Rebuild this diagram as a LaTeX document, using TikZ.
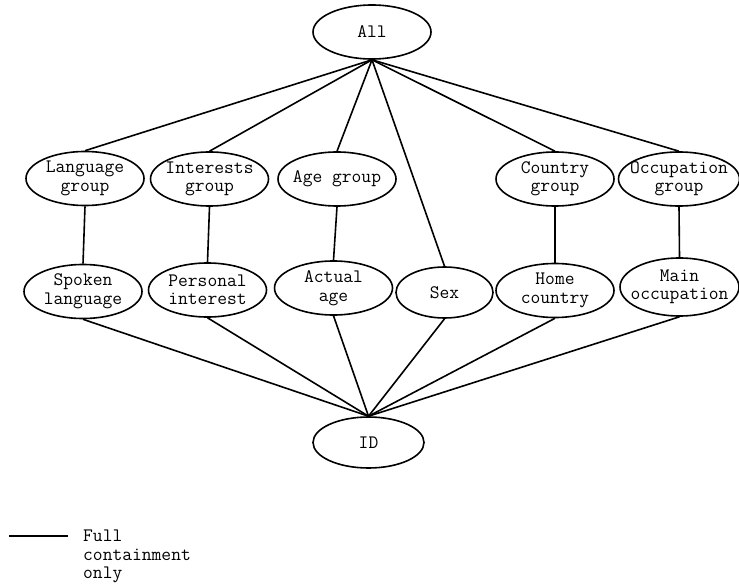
\documentclass[tikz,border=0pt]{standalone}
\usepackage{fontspec}
\usetikzlibrary{shapes.geometric}
\tikzset{
  ent/.style={draw, ellipse, line width=1.6bp, inner sep=0pt,
              minimum width=118bp, minimum height=54bp},
  txt/.style={align=center, inner sep=0pt,
              font=\ttfamily\fontsize{19bp}{18.5bp}\selectfont},
  link/.style={line width=1.6bp}
}
\begin{document}
\begin{tikzpicture}[x=1bp, y=-1bp]
  \useasboundingbox (0,0) rectangle (739,585);

  % top and bottom of the lattice
  \node[ent, label={[txt]center:All}] (all) at (372,32) {};
  \node[ent, minimum width=111bp, minimum height=51bp,
        label={[txt]center:ID}] (id) at (368.5,442.5) {};

  % grouped dimensions
  \node[ent, label={[txt]center:{Language\\group}}]   (langgrp) at (85,178.5) {};
  \node[ent, label={[txt]center:{Interests\\group}}]  (intgrp)  at (209.5,179) {};
  \node[ent, label={[txt]center:{Age group}}]         (agegrp)  at (337,179) {};
  \node[ent, label={[txt]center:{Country\\group}}]    (cntgrp)  at (555,179) {};
  \node[ent, minimum width=121bp,
        label={[txt]center:{Occupation\\group}}]      (occgrp)  at (679,179) {};

  % base attributes
  \node[ent, label={[txt]center:{Spoken\\language}}]  (spoken)  at (83,291.5) {};
  \node[ent, label={[txt]center:{Personal\\interest}}](persint) at (207.5,290) {};
  \node[ent, label={[txt]center:{Actual\\age}}]       (actage)  at (333.5,288) {};
  \node[ent, minimum width=97bp, minimum height=51bp,
        label={[txt]center:Sex}]                      (sex)     at (444.5,292.5) {};
  \node[ent, label={[txt]center:{Home\\country}}]     (home)    at (555,290.5) {};
  \node[ent, minimum width=119bp, minimum height=58bp,
        label={[txt]center:{Main\\occupation}}]       (mainocc) at (679.5,287) {};

  % All to the upper row
  \foreach \n in {langgrp, intgrp, agegrp, sex, cntgrp, occgrp}
    \draw[link] (all.south) -- (\n.north);

  % groups to their attributes
  \draw[link] (langgrp.south) -- (spoken.north);
  \draw[link] (intgrp.south)  -- (persint.north);
  \draw[link] (agegrp.south)  -- (actage.north);
  \draw[link] (cntgrp.south)  -- (home.north);
  \draw[link] (occgrp.south)  -- (mainocc.north);

  % attributes to ID
  \foreach \n in {spoken, persint, actage, sex, home, mainocc}
    \draw[link] (\n.south) -- (id.north);

  % legend
  \coordinate (lega) at (9,536);
  \coordinate (legb) at (68,536);
  \draw[link] (lega) -- (legb);
  \node[txt, align=left, anchor=north west] (legtext) at (83,530)
    {Full\\containment\\only};
\end{tikzpicture}
\end{document}
